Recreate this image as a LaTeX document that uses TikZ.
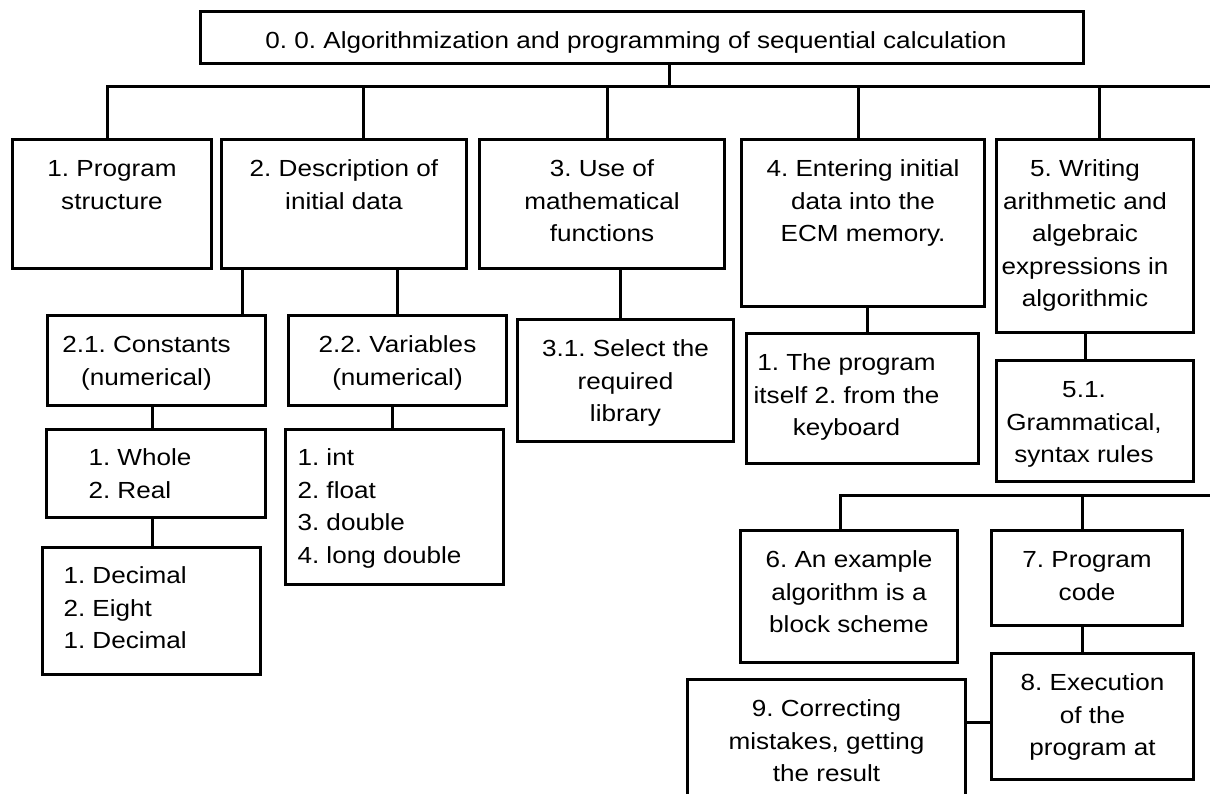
\documentclass[tikz,border=0pt]{standalone}
\usepackage{fontspec}
\setmainfont{Liberation Sans}[FakeStretch=1.12]
\usepackage{tikz}
\usetikzlibrary{positioning}
\tikzstyle{blk} = [draw=black, line width=3pt, rectangle, inner sep=0pt,
    anchor=north west, font=\fontsize{23.3pt}{32.5pt}\selectfont]
\tikzstyle{link} = [draw=black, line width=3pt]
% centred text, top aligned; optional shift of the centre to the left
\newcommand{\ctext}[4][0pt]{\begin{minipage}[c][#3][t]{#2}\centering
    \rightskip=#1 plus 1fil\rule{0pt}{37pt}#4\end{minipage}}
% left aligned list
\newcommand{\ltext}[4]{\begin{minipage}[c][#2][t]{#1}\raggedright
    \leftskip=#3\rule{0pt}{36pt}#4\end{minipage}}

\begin{document}
\frenchspacing
\begin{tikzpicture}[x=1pt,y=-1pt]
\useasboundingbox (0,0) rectangle (1210,793);
\clip (0,0) rectangle (1210,793);

\node [blk] (top) at (199,10) {\ctext[12pt]{883pt}{52pt}{0. 0. Algorithmization and programming of sequential calculation}};

\node [blk] (b1) at (11,138) {\ctext{199pt}{129pt}{1. Program\\structure}};
\node [blk] (b2) at (220,138) {\ctext{245pt}{129pt}{2. Description of\\initial data}};
\node [blk] (b3) at (478,138) {\ctext{245pt}{129pt}{3. Use of\\mathematical\\functions}};
\node [blk] (b4) at (740,138) {\ctext{243pt}{167pt}{4. Entering initial\\data into the\\ECM memory.}};
\node [blk] (b5) at (995,138) {\ctext[20pt]{197pt}{193pt}{5. Writing\\arithmetic and\\algebraic\\expressions in\\algorithmic}};

\coordinate (bus1) at (1210,86);
\draw [link] (b1.north -| 107,0) |- (bus1);
\draw [link] (top.south -| 669,0) -- (669,0 |- bus1);
\draw [link] (b2.north -| 363,0) -- (363,0 |- bus1);
\draw [link] (b3.north -| 607,0) -- (607,0 |- bus1);
\draw [link] (b4.north -| 858,0) -- (858,0 |- bus1);
\draw [link] (b5.north -| 1099,0) -- (1099,0 |- bus1);

\node [blk] (b21) at (46,314) {\ctext[20pt]{218pt}{90pt}{2.1. Constants\\(numerical)}};
\node [blk,right=20pt of b21.north east,anchor=north west] (b22) {\ctext{218pt}{90pt}{2.2. Variables\\(numerical)}};
\node [blk] (b31) at (516,318) {\ctext{216pt}{122pt}{3.1. Select the\\required\\library}};
\node [blk] (b41) at (745,332) {\ctext[32pt]{232pt}{130pt}{1. The program\\itself 2. from the\\keyboard}};
\node [blk] (b51) at (995,359) {\ctext[22pt]{197pt}{121pt}{5.1.\\Grammatical,\\syntax rules}};

\draw [link] (b2.south -| 242,0) -- (b21.north -| 242,0);
\draw [link] (b2.south -| 397,0) -- (b22.north -| 397,0);
\draw [link] (b3.south -| 620,0) -- (b31.north -| 620,0);
\draw [link] (b4.south -| 867,0) -- (b41.north -| 867,0);
\draw [link] (b5.south -| 1085,0) -- (b51.north -| 1085,0);

\node [blk] (b21a) at (45,428) {\ltext{219pt}{88pt}{42pt}{1. Whole\\2. Real}};
\node [blk] (b22a) at (284,428) {\ltext{218pt}{155pt}{12pt}{1. int\\2. float\\3. double\\4. long double}};
\node [blk] (b21b) at (41,546) {\ltext{218pt}{127pt}{21pt}{1. Decimal\\2. Eight\\1. Decimal}};

\draw [link] (b21.south -| 152,0) -- (b21a.north -| 152,0);
\draw [link] (b22.south -| 392,0) -- (b22a.north -| 392,0);
\draw [link] (b21a.south -| 152,0) -- (b21b.north -| 152,0);

\node [blk] (b6) at (739,529) {\ctext{217pt}{132pt}{6. An example\\algorithm is a\\block scheme}};
\node [blk] (b7) at (990,529) {\ctext{191pt}{95pt}{7. Program\\code}};
\node [blk] (b8) at (990,652) {\ctext{202pt}{126pt}{8. Execution\\of the\\program at}};
\node [blk] (b9) at (686,678) {\ctext{278pt}{130pt}{9. Correcting\\mistakes, getting\\the result}};

\coordinate (bus2) at (1210,495);
\draw [link] (b6.north -| 840,0) |- (bus2);
\draw [link] (b7.north -| 1082,0) -- (1082,0 |- bus2);
\draw [link] (b7.south -| 1082,0) -- (b8.north -| 1082,0);
\draw [link] (b9.east |- 0,722) -- (b8.west |- 0,722);

\end{tikzpicture}
\end{document}
